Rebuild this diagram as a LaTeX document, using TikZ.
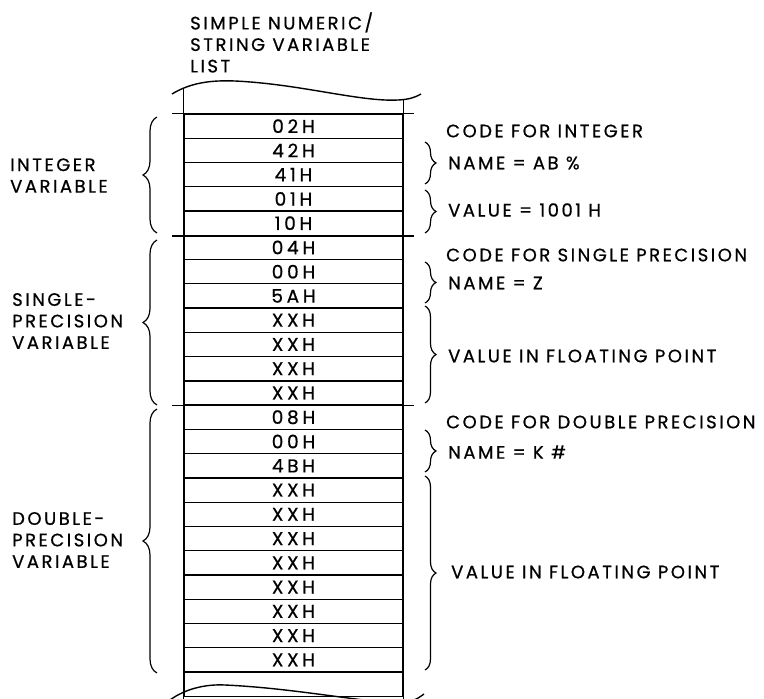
\documentclass[tikz,border=0pt]{standalone}
\usepackage{fontspec}
\newfontfamily\lettering[LetterSpace=14,FakeBold=0.7]{Poppins}
\newfontfamily\hexfont[LetterSpace=20,FakeBold=0.7]{Poppins}
\usetikzlibrary{decorations.pathreplacing}
\begin{document}
\begin{tikzpicture}[x=1pt,y=-1pt,
  lbl/.style={font=\lettering\fontsize{18}{21.5}\selectfont, inner sep=0pt, align=left, anchor=west},
  cell/.style={draw, line width=1.3pt, minimum width=219pt, minimum height=24.26pt, inner sep=0pt, font=\hexfont\fontsize{18.5}{20}\selectfont},
  sep/.style={line width=1.4pt},
  lbrace/.style={decorate, decoration={brace, amplitude=14pt}, line width=1.2pt},
  rbrace/.style={decorate, decoration={brace, amplitude=11pt}, line width=1.2pt}]
\useasboundingbox (0,0) rectangle (764,699);
% title
\node[lbl] (title) at (190,42.5) {SIMPLE NUMERIC/\\STRING VARIABLE\\LIST};
% column cells
\foreach \t [count=\i from 0] in {02H,42H,41H,01H,10H,04H,00H,5AH,XXH,XXH,XXH,XXH,08H,00H,4BH,XXH,XXH,XXH,XXH,XXH,XXH,XXH,XXH,{}}
  \node[cell] (r\i) at (293.5,{126.13+\i*24.26}) {\t};
% column continuation
\draw[sep] (r0.north west) -- ++(0,-25);
\draw[sep] (r0.north east) -- ++(0,-14);
\draw[sep] (r23.south west) -- ++(0,6);
\draw[sep] (r23.south east) -- ++(0,6);
% separators
\draw[sep] ([xshift=-11pt]r0.north west) -- ([xshift=10pt]r0.north east);
\draw[sep] ([xshift=-11pt]r4.south west) -- ([xshift=10pt]r4.south east);
\draw[sep] ([xshift=-11pt]r11.south west) -- ([xshift=10pt]r11.south east);
% wavy breaks
\draw[sep] (172,94) .. controls (190,83) and (210,80) .. (235,81) .. controls (300,84) and (360,102) .. (398,100) .. controls (408,99.5) and (414,98) .. (421,94);
\draw[sep] (170,700) .. controls (185,689) and (205,684) .. (225,685) .. controls (290,688) and (350,700) .. (395,703) .. controls (410,703) and (416,700) .. (424,694);
% left labels and braces
\node[lbl] (intlab) at (10,175.5) {INTEGER\\VARIABLE};
\node[lbl] (sglab) at (12,321) {SINGLE-\\PRECISION\\VARIABLE};
\node[lbl] (dbllab) at (12,540) {DOUBLE-\\PRECISION\\VARIABLE};
\draw[lbrace] (157,233) -- (157,117);
\draw[lbrace] (157,405) -- (157,240);
\draw[lbrace] (157,673) -- (157,409);
% right braces
\draw[rbrace] (425,142) -- (425,184);
\draw[rbrace] (425,190) -- (425,233);
\draw[rbrace] (425,262) -- (425,303);
\draw[rbrace] (425,306) -- (425,403);
\draw[rbrace] (425,430) -- (425,472);
\draw[rbrace] (425,476) -- (425,670);
% right labels
\node[lbl] (c1) at (446,131) {CODE FOR INTEGER};
\node[lbl] (n1) at (448,163) {NAME = AB \%};
\node[lbl] (v1) at (448,210) {VALUE = 1001 H};
\node[lbl] (c2) at (446,255) {CODE FOR SINGLE PRECISION};
\node[lbl] (n2) at (448,283) {NAME = Z};
\node[lbl] (v2) at (448,356) {VALUE IN FLOATING POINT};
\node[lbl] (c3) at (446,422) {CODE FOR DOUBLE PRECISION};
\node[lbl] (n3) at (448,452) {NAME = K \#};
\node[lbl] (v3) at (451,572) {VALUE IN FLOATING POINT};
\end{tikzpicture}
\end{document}
